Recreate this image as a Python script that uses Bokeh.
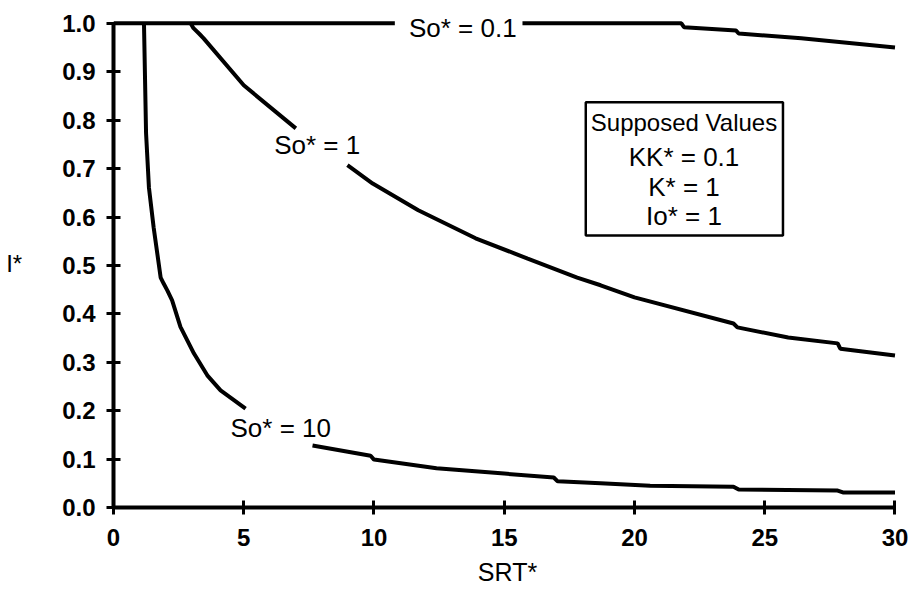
from bokeh.plotting import figure
from bokeh.models import Range1d, FixedTicker, PrintfTickFormatter, Label, BoxAnnotation
from bokeh.embed import file_html
from bokeh.resources import INLINE

nan = float("nan")

# Data; NaN breaks leave room for curve labels
so01_x = [0.0, 10.8, nan, 15.7, 21.8, 21.9, 23.9, 24.0, 26.4, 30.0]
so01_y = [1.0, 1.0, nan, 1.0, 1.0, 0.992, 0.985, 0.979, 0.969, 0.950]

so1_x = [2.96, 3.07, 3.3, 3.46, 5.0, 7.0, nan, 8.98, 9.95, 11.7, 13.9, 15.9, 17.8, 18.7,
         20.0, 23.8, 23.95, 25.9, 27.8, 27.9, 30.0]
so1_y = [1.0, 0.99, 0.978, 0.969, 0.872, 0.783, nan, 0.707, 0.669, 0.614, 0.556, 0.514, 0.475, 0.459,
         0.434, 0.380, 0.372, 0.351, 0.339, 0.328, 0.314]

so10_x = [1.17, 1.25, 1.36, 1.54, 1.81, 1.93, 2.07, 2.25, 2.57, 3.09, 3.6, 4.11, 5.07, nan,
          7.64, 9.87, 10.0, 12.4, 15.0, 16.9, 17.05, 18.7, 20.6, 23.8, 24.0, 27.8, 28.0, 30.0]
so10_y = [1.0, 0.773, 0.661, 0.579, 0.475, 0.462, 0.448, 0.428, 0.373, 0.318, 0.273, 0.242, 0.204, nan,
          0.128, 0.107, 0.099, 0.081, 0.070, 0.062, 0.054, 0.050, 0.045, 0.043, 0.037, 0.035, 0.031, 0.031]

x_ticks = [0, 5, 10, 15, 20, 25, 30]
y_ticks = [0.0, 0.1, 0.2, 0.3, 0.4, 0.5, 0.6, 0.7, 0.8, 0.9, 1.0]

curve_labels = ["So* = 0.1", "So* = 1", "So* = 10"]
curve_label_x = [13.41, 7.82, 6.42]
curve_label_y = [0.990, 0.748, 0.165]

legend_lines = ["Supposed Values", "KK* = 0.1", "K* = 1", "Io* = 1"]
legend_line_y = [0.795, 0.724, 0.662, 0.602]
legend_x = 21.9
legend_box = dict(left=18.13, right=25.7, top=0.837, bottom=0.562)

x_title = "SRT*"
y_title = "I*"

FONT = "Liberation Sans"

p = figure(width=913, height=589,
           x_range=Range1d(0, 30.25), y_range=Range1d(0, 1.01),
           output_backend="svg", toolbar_location=None,
           min_border_left=113, min_border_right=12,
           min_border_top=18, min_border_bottom=82)

p.outline_line_color = None
p.xgrid.visible = False
p.ygrid.visible = False
p.background_fill_color = "white"
p.border_fill_color = "white"

for ax in (p.xaxis, p.yaxis):
    ax.axis_line_width = 4
    ax.axis_line_color = "black"
    ax.major_tick_line_width = 3
    ax.major_tick_line_color = "black"
    ax.major_tick_in = 7
    ax.major_tick_out = 7
    ax.minor_tick_line_color = None
    ax.major_label_text_font = FONT
    ax.major_label_text_font_style = "bold"
    ax.major_label_text_font_size = "24px"
    ax.major_label_text_color = "black"
    ax.axis_label_text_font = FONT
    ax.axis_label_text_font_style = "normal"
    ax.axis_label_text_color = "black"

p.xaxis.ticker = FixedTicker(ticks=x_ticks)
p.yaxis.ticker = FixedTicker(ticks=y_ticks)
p.yaxis.formatter = PrintfTickFormatter(format="%.1f")
p.xaxis.bounds = (0, 30)
p.yaxis.bounds = (0, 1)
p.xaxis.major_label_standoff = 14
p.yaxis.major_label_standoff = 11

p.xaxis.axis_label = x_title
p.xaxis.axis_label_text_font_size = "25px"
p.xaxis.axis_label_standoff = 9
p.yaxis.axis_label = y_title
p.yaxis.axis_label_text_font_size = "24px"
p.yaxis.axis_label_orientation = "horizontal"
p.yaxis.axis_label_standoff = 37

for xs, ys in ((so01_x, so01_y), (so1_x, so1_y), (so10_x, so10_y)):
    p.line(xs, ys, line_color="black", line_width=4)

for t, x, y in zip(curve_labels, curve_label_x, curve_label_y):
    p.add_layout(Label(x=x, y=y, text=t, text_align="center", text_baseline="middle",
                       text_font=FONT, text_font_size="26px", text_color="black"))

p.add_layout(BoxAnnotation(fill_color=None, fill_alpha=0, line_color="black", line_alpha=1,
                           line_width=2.5, **legend_box))
for t, y in zip(legend_lines, legend_line_y):
    p.add_layout(Label(x=legend_x, y=y, text=t, text_align="center", text_baseline="middle",
                       text_font=FONT, text_font_size="24px" if t == "Supposed Values" else "26px",
                       text_color="black"))

open("out.html", "w").write(file_html(p, INLINE))
